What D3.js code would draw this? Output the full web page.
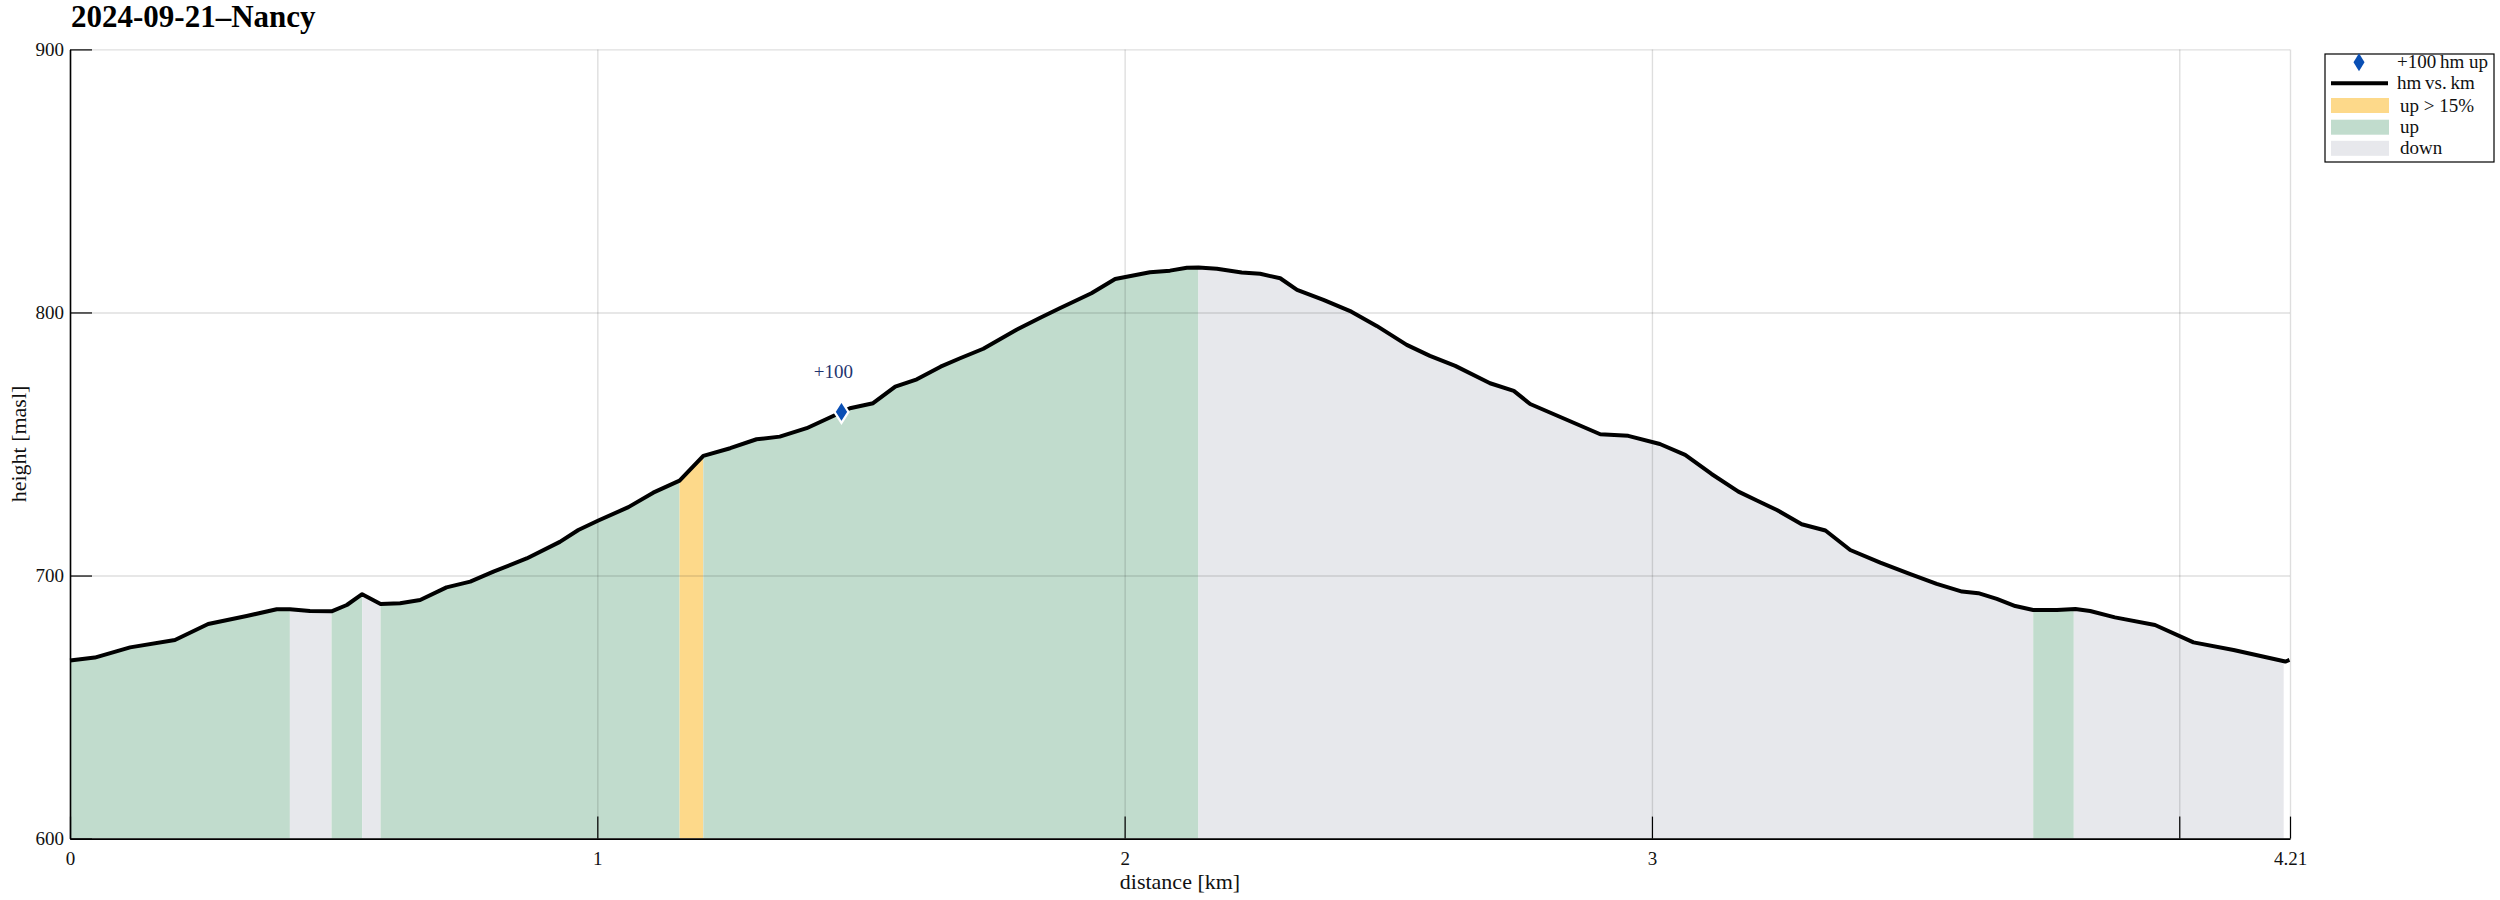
<!DOCTYPE html>
<html>
<head>
<meta charset="utf-8">
<script src="https://cdn.jsdelivr.net/npm/d3@7"></script>
<style>
  html, body { margin: 0; padding: 0; background: #ffffff; }
  svg text { font-family: "Liberation Serif", "DejaVu Serif", serif; }
</style>
</head>
<body>
<svg id="chart" width="2500" height="900"></svg>
<script>
// ---------------- data ----------------
const title = "2024-09-21\u2013Nancy";

const distKm = [
  0.000, 0.047, 0.114, 0.199, 0.262, 0.335, 0.392, 0.417, 0.455, 0.496,
  0.525, 0.554, 0.589, 0.626, 0.664, 0.714, 0.759, 0.803, 0.866, 0.929,
  0.964, 1.002, 1.059, 1.106, 1.156, 1.201, 1.252, 1.302, 1.346, 1.397,
  1.479, 1.523, 1.565, 1.606, 1.651, 1.688, 1.732, 1.795, 1.840, 1.877,
  1.937, 1.982, 2.048, 2.086, 2.118, 2.140, 2.175, 2.222, 2.257, 2.295,
  2.327, 2.377, 2.430, 2.478, 2.535, 2.579, 2.627, 2.693, 2.738, 2.769,
  2.835, 2.902, 2.955, 3.015, 3.063, 3.113, 3.164, 3.199, 3.237, 3.284,
  3.329, 3.376, 3.433, 3.490, 3.540, 3.588, 3.619, 3.654, 3.689, 3.723,
  3.768, 3.803, 3.831, 3.878, 3.954, 4.027, 4.103, 4.201, 4.209
];
const heightM = [
  667.7, 668.8, 672.7, 675.5, 681.6, 684.6, 687.2, 687.2, 686.5, 686.4,
  688.8, 692.9, 689.2, 689.5, 690.7, 695.5, 697.7, 701.5, 706.5, 712.8,
  717.3, 720.9, 726.0, 731.5, 736.1, 745.5, 748.4, 751.8, 752.8, 756.0,
  763.6, 765.5, 771.8, 774.6, 779.4, 782.6, 786.2, 793.4, 798.0, 801.6,
  807.3, 812.7, 815.3, 815.9, 817.0, 817.1, 816.6, 815.2, 814.7, 813.0,
  808.6, 804.8, 800.3, 794.9, 787.7, 783.5, 779.7, 773.1, 770.2, 765.2,
  759.5, 753.7, 753.1, 750.0, 745.9, 738.6, 731.9, 728.5, 724.9, 719.5,
  717.1, 709.7, 704.9, 700.5, 696.8, 693.9, 693.3, 691.1, 688.4, 686.9,
  686.9, 687.3, 686.5, 684.1, 681.2, 674.6, 671.7, 667.3, 667.9
];

// shaded sections of the profile
const segStart = [0.000, 0.417, 0.496, 0.554, 0.589, 1.156, 1.201, 2.140, 3.723, 3.800];
const segEnd   = [0.417, 0.496, 0.554, 0.589, 1.156, 1.201, 2.140, 3.723, 3.800, 4.198];
const segType  = ["up", "down", "up", "down", "up", "steep", "up", "down", "up", "down"];

// +100 hm markers
const markerKm = [1.463];
const markerH = [762.2];
const markerLabel = ["+100"];

// axes
const xTicks = [0, 1, 2, 3, 4, 4.21];
const xTickLabels = ["0", "1", "2", "3", "", "4.21"];
const yTicks = [600, 700, 800, 900];
const yTickLabels = ["600", "700", "800", "900"];
const xLabel = "distance [km]";
const yLabel = "height [masl]";

// legend
const legendLabels = ["+100\u2009hm up", "hm\u2009vs.\u2009km", "up > 15%", "up", "down"];
const legendKinds = ["marker", "line", "steep", "up", "down"];

// ---------------- drawing ----------------
const colors = { up: "#c1dccd", down: "#e7e8ec", steep: "#fdd98a" };
const svg = d3.select("#chart");
const X0 = 70, X1 = 2290, Y0 = 838.6, Y1 = 49.4;

const x = d3.scaleLinear().domain([0, 4.21]).range([X0, X1]);
const y = d3.scaleLinear().domain([600, 900]).range([Y0, Y1]);

svg.append("rect").attr("width", 2500).attr("height", 900).attr("fill", "#fff");

const pts = distKm.map((d, i) => [d, heightM[i]]);

// fills, clipped per section
const defs = svg.append("defs");
const area = d3.area().x(d => x(d[0])).y0(y(600)).y1(d => y(d[1]));
segStart.forEach((s, i) => {
  const id = "clip" + i;
  defs.append("clipPath").attr("id", id)
    .append("rect")
    .attr("x", x(s)).attr("y", Y1)
    .attr("width", x(segEnd[i]) - x(s)).attr("height", Y0 - Y1);
  svg.append("path")
    .datum(pts)
    .attr("d", area)
    .attr("fill", colors[segType[i]])
    .attr("clip-path", `url(#${id})`);
});

// grid lines
const gridX = svg.append("g").attr("transform", `translate(0,${Y0})`)
  .call(d3.axisBottom(x).tickValues(xTicks).tickSize(-(Y0 - Y1)).tickFormat(""));
gridX.select(".domain").remove();
gridX.selectAll("line").attr("stroke", "rgba(0,0,0,0.13)").attr("stroke-width", 1.4);

const gridY = svg.append("g").attr("transform", `translate(${X0},0)`)
  .call(d3.axisLeft(y).tickValues(yTicks).tickSize(-(X1 - X0)).tickFormat(""));
gridY.select(".domain").remove();
gridY.selectAll("line").attr("stroke", "rgba(0,0,0,0.13)").attr("stroke-width", 1.4);

// profile line
svg.append("path")
  .datum(pts)
  .attr("d", d3.line().x(d => x(d[0])).y(d => y(d[1])))
  .attr("fill", "none")
  .attr("stroke", "#000")
  .attr("stroke-width", 4)
  .attr("stroke-linejoin", "round");

// axes
const xAxis = svg.append("g").attr("transform", `translate(0,${Y0})`)
  .call(d3.axisBottom(x).tickValues(xTicks).tickSize(-22).tickSizeOuter(0).tickPadding(13)
    .tickFormat((d, i) => xTickLabels[i]));
xAxis.select(".domain").attr("stroke", "#000").attr("stroke-width", 1.6);
xAxis.selectAll(".tick line").attr("stroke", "#000").attr("stroke-width", 1.2);
xAxis.selectAll("text").attr("font-size", 19).attr("fill", "#111")
  .style("font-family", '"Liberation Serif", serif');

const yAxis = svg.append("g").attr("transform", `translate(${X0},0)`)
  .call(d3.axisLeft(y).tickValues(yTicks).tickSize(-22).tickSizeOuter(0).tickPadding(6)
    .tickFormat((d, i) => yTickLabels[i]));
yAxis.select(".domain").attr("stroke", "#000").attr("stroke-width", 1.6);
yAxis.selectAll(".tick line").attr("stroke", "#000").attr("stroke-width", 1.2);
yAxis.selectAll("text").attr("font-size", 19).attr("fill", "#111")
  .style("font-family", '"Liberation Serif", serif');

// axis labels
svg.append("text")
  .attr("x", (X0 + X1) / 2).attr("y", 889)
  .attr("text-anchor", "middle").attr("font-size", 22).attr("fill", "#111")
  .text(xLabel);
svg.append("text")
  .attr("transform", `translate(26,${(Y0 + Y1) / 2}) rotate(-90)`)
  .attr("text-anchor", "middle").attr("font-size", 22).attr("fill", "#111")
  .text(yLabel);

// title
svg.append("text")
  .attr("x", 71).attr("y", 27)
  .attr("font-size", 31).attr("font-weight", "bold").attr("fill", "#000")
  .text(title);

// markers
const diamond = (cx, cy, w, h) => `M${cx},${cy - h / 2}L${cx + w / 2},${cy}L${cx},${cy + h / 2}L${cx - w / 2},${cy}Z`;
markerKm.forEach((k, i) => {
  const cx = x(k), cy = y(markerH[i]);
  svg.append("path").attr("d", diamond(cx, cy, 14, 22))
    .attr("fill", "#0a4fb4").attr("stroke", "#fff").attr("stroke-width", 2.2);
  svg.append("text")
    .attr("x", cx - 8).attr("y", cy - 34)
    .attr("text-anchor", "middle").attr("font-size", 19).attr("fill", "#1f356f")
    .text(markerLabel[i]);
});

// legend
const lg = svg.append("g");
lg.append("rect").attr("x", 2325).attr("y", 54).attr("width", 169).attr("height", 108)
  .attr("fill", "#fff").attr("stroke", "#000").attr("stroke-width", 1.2);
const rowY = [62.3, 83.3, 105.5, 127.2, 148.3];
legendKinds.forEach((k, i) => {
  const cy = rowY[i];
  if (k === "marker") {
    lg.append("path").attr("d", diamond(2359, cy, 11, 18)).attr("fill", "#0a4fb4");
  } else if (k === "line") {
    lg.append("line").attr("x1", 2331).attr("x2", 2388).attr("y1", cy).attr("y2", cy)
      .attr("stroke", "#000").attr("stroke-width", 4);
  } else {
    lg.append("rect").attr("x", 2331).attr("y", cy - 7.5).attr("width", 58).attr("height", 15)
      .attr("fill", colors[k]);
  }
  lg.append("text")
    .attr("x", (k === "marker" || k === "line") ? 2397 : 2400)
    .attr("y", cy + 6)
    .attr("font-size", 19).attr("fill", "#111")
    .text(legendLabels[i]);
});
</script>
</body>
</html>
